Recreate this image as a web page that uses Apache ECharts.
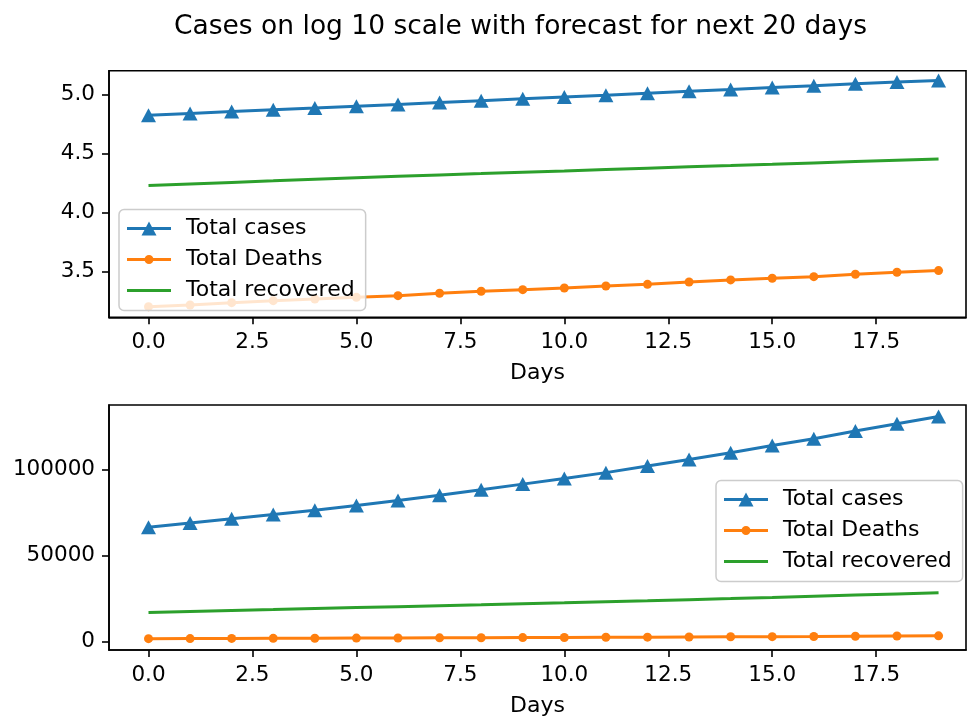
<!DOCTYPE html>
<html>
<head>
<meta charset="utf-8">
<script src="https://cdn.jsdelivr.net/npm/echarts@6/dist/echarts.min.js"></script>
<style>html,body{margin:0;padding:0;background:#fff}#c{width:967px;height:718px}</style>
</head>
<body>
<div id="c"></div>
<script>
// ---- data ----
var days = [0,1,2,3,4,5,6,7,8,9,10,11,12,13,14,15,16,17,18,19];
var totalCases = [66500,69000,71500,74000,76500,79200,82100,85200,88400,91700,95000,98400,102300,106100,110000,114200,118200,122700,126900,131100];
var totalDeaths = [1600,1652,1729,1798,1858,1919,1983,2075,2158,2228,2302,2393,2472,2588,2692,2780,2871,3006,3126,3228];
var totalRecovered = [16900,17450,18000,18550,19150,19700,20250,20800,21350,21950,22500,23100,23700,24350,24950,25600,26300,27000,27700,28400];
var xTicks = [0,2.5,5,7.5,10,12.5,15,17.5];
var yTicksLog = [3.5,4.0,4.5,5.0];
var yTicksLin = [0,50000,100000];
var seriesNames = ['Total cases','Total Deaths','Total recovered'];

var C_BLUE = '#1f77b4', C_ORANGE = '#ff7f0e', C_GREEN = '#2ca02c';
var FONT = 'DejaVu Sans';

function pairs(vals, fn){ return days.map(function(d,i){ return [d, fn ? fn(vals[i]) : vals[i]]; }); }
function lg(v){ return Math.log10(v); }

// legend icons: line sample with the series marker on it
var ICON_CASES = 'path://M0,5.5L44,5.5L44,8.5L0,8.5Z M22,0L29.5,14L14.5,14Z';
var ICON_DEATHS = 'path://M0,2.9L44,2.9L44,6.1L0,6.1Z M17.5,4.5A4.5,4.5 0 1,1 26.5,4.5A4.5,4.5 0 1,1 17.5,4.5Z';
var ICON_REC = 'path://M0,0L44,0L44,3L0,3Z';

var chart = echarts.init(document.getElementById('c'), null, {renderer:'canvas'});

function xAxis(gi){
  return {
    type:'value', gridIndex:gi, min:-0.95, max:19.66,
    name:'Days', nameLocation:'middle', nameGap:45,
    nameTextStyle:{fontFamily:FONT, fontSize:22, color:'#000'},
    splitLine:{show:false},
    axisLine:{show:true, onZero:false, lineStyle:{color:'#000', width:1.6}},
    axisTick:{show:true, inside:false, length:7, lineStyle:{color:'#000', width:1.6}, customValues:xTicks},
    axisLabel:{fontFamily:FONT, fontSize:21.5, color:'#000', margin:14, customValues:xTicks,
      formatter:function(v){ return v.toFixed(1); }}
  };
}
function yAxis(gi, mn, mx, ticks, fmt){
  return {
    type:'value', gridIndex:gi, min:mn, max:mx,
    splitLine:{show:false},
    axisLine:{show:true, onZero:false, lineStyle:{color:'#000', width:1.6}},
    axisTick:{show:true, inside:false, length:7, lineStyle:{color:'#000', width:1.6}, customValues:ticks},
    axisLabel:{fontFamily:FONT, fontSize:21.5, color:'#000', margin:14, customValues:ticks, formatter:fmt}
  };
}
function mkSeries(gi, logScale){
  var f = logScale ? lg : null;
  return [
    {name:seriesNames[0], type:'line', xAxisIndex:gi, yAxisIndex:gi, data:pairs(totalCases,f),
     symbol:'triangle', symbolSize:[15,14], showSymbol:true, color:C_BLUE,
     lineStyle:{width:3, color:C_BLUE}, itemStyle:{color:C_BLUE}, animation:false, z:3},
    {name:seriesNames[1], type:'line', xAxisIndex:gi, yAxisIndex:gi, data:pairs(totalDeaths,f),
     symbol:'circle', symbolSize:9, showSymbol:true, color:C_ORANGE,
     lineStyle:{width:3, color:C_ORANGE}, itemStyle:{color:C_ORANGE}, animation:false, z:3},
    {name:seriesNames[2], type:'line', xAxisIndex:gi, yAxisIndex:gi, data:pairs(totalRecovered,f),
     symbol:'none', showSymbol:false, color:C_GREEN,
     lineStyle:{width:3, color:C_GREEN}, animation:false, z:3}
  ];
}
function legend(left, top){
  return {
    orient:'vertical', left:left, top:top,
    data:[
      {name:seriesNames[0], icon:ICON_CASES},
      {name:seriesNames[1], icon:ICON_DEATHS},
      {name:seriesNames[2], icon:ICON_REC}
    ],
    itemWidth:44, itemHeight:17, itemGap:9, symbolKeepAspect:true,
    padding:[8,11,9,8],
    backgroundColor:'rgba(255,255,255,0.8)', borderColor:'#cccccc', borderWidth:1.5, borderRadius:5,
    textStyle:{fontFamily:FONT, fontSize:22, color:'#000', padding:[0,0,0,10]},
    selectedMode:false, z:10
  };
}

var option = {
  animation:false,
  backgroundColor:'#fff',
  title:{text:'Cases on log 10 scale with forecast for next 20 days', left:169, top:9,
    textStyle:{fontFamily:FONT, fontSize:26.5, fontWeight:'normal', color:'#000'}},
  grid:[
    {left:109, top:70.7, width:857, height:246.6, show:true, borderColor:'#000', borderWidth:1.6, backgroundColor:'transparent'},
    {left:109, top:405, width:857, height:247.7, show:true, borderColor:'#000', borderWidth:1.6, backgroundColor:'transparent'}
  ],
  xAxis:[xAxis(0), xAxis(1)],
  yAxis:[
    yAxis(0, 3.114, 5.2, yTicksLog, function(v){ return v.toFixed(1); }),
    yAxis(1, -5017, 137830, yTicksLin, function(v){ return String(Math.round(v)); })
  ],
  legend:[legend(119, 209.5), legend(716, 480.5)],
  series: mkSeries(0, true).concat(mkSeries(1, false))
};
chart.setOption(option);
</script>
</body>
</html>
